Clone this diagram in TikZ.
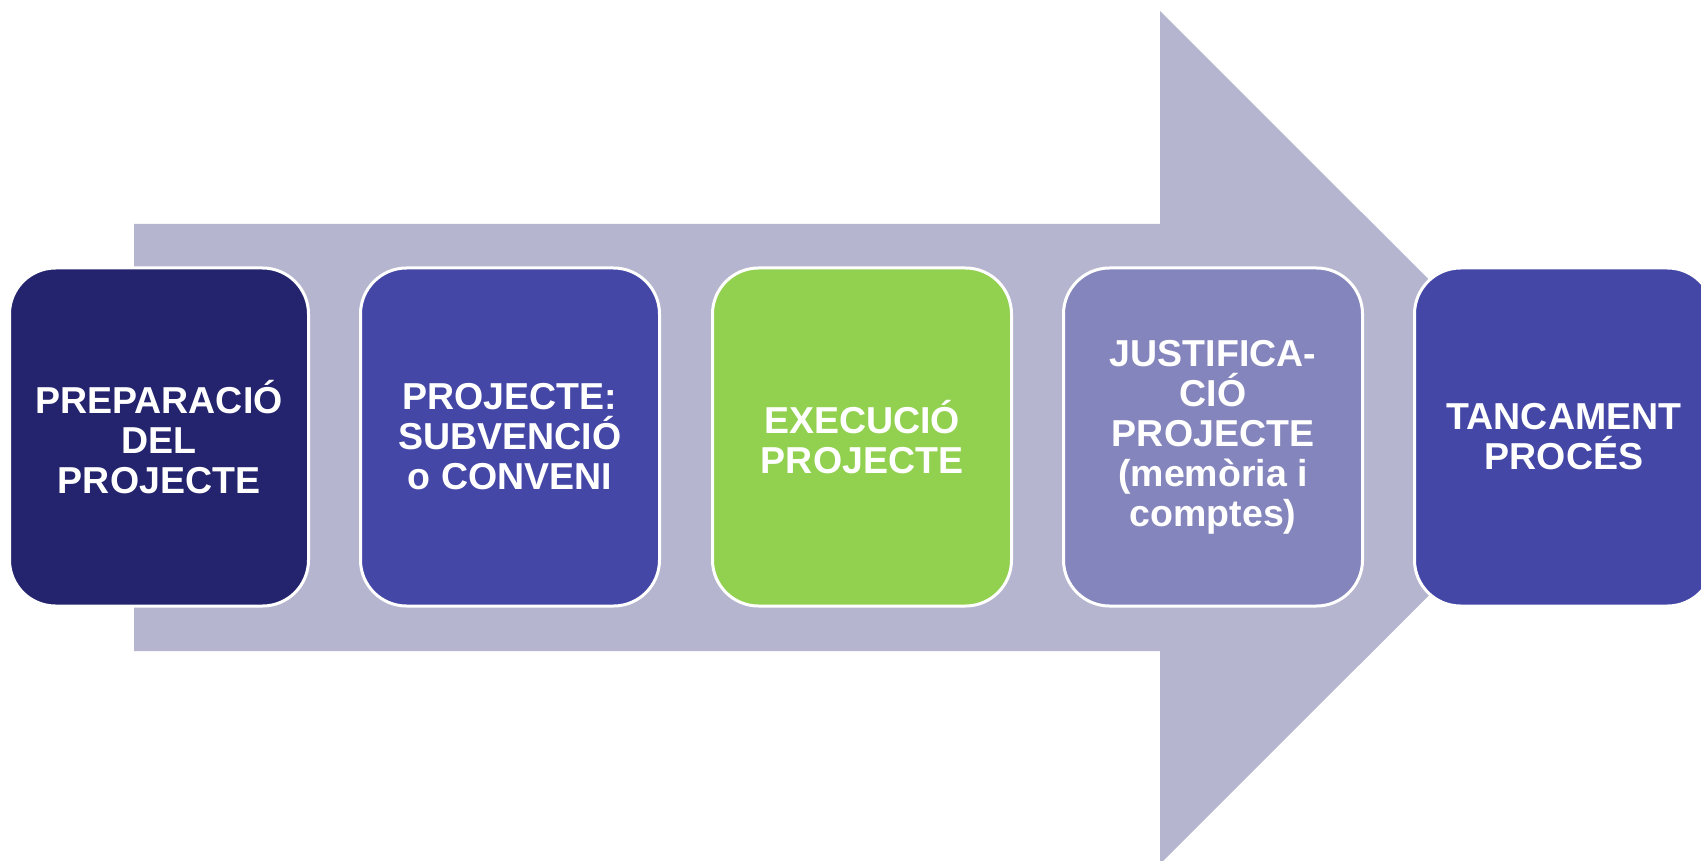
\documentclass[tikz,border=0pt]{standalone}
\usepackage{fontspec}
\setmainfont{Liberation Sans}
\definecolor{arrowgray}{HTML}{B5B5CF}
\definecolor{navy}{HTML}{24246E}
\definecolor{violet}{HTML}{4547A6}
\definecolor{lgreen}{HTML}{92D050}
\definecolor{lavender}{HTML}{8585BD}
\begin{document}
\begin{tikzpicture}[x=1pt,y=-1pt,
  stepbox/.style={draw=white, line width=3pt, rounded corners=46pt,
    minimum width=299pt, minimum height=338pt, inner sep=0pt,
    text=white, align=center,
    font=\bfseries\fontsize{37.5}{40}\selectfont}]
\useasboundingbox (0,0) rectangle (1701,861);
\clip (0,0) rectangle (1701,861);
\fill[arrowgray] (134,224) -- (1160,224) -- (1160,11) -- (1587,437.5)
  -- (1160,864) -- (1160,651) -- (134,651) -- cycle;
\node[stepbox, fill=navy] (b1) at (159,437) {PREPARACIÓ\\DEL\\PROJECTE};
\node[stepbox, fill=violet] (b2) at (510,437) {PROJECTE:\\SUBVENCIÓ\\o CONVENI};
\node[stepbox, fill=lgreen] (b3) at (862,437) {EXECUCIÓ\\PROJECTE};
\node[stepbox, fill=lavender] (b4) at (1213,437) {JUSTIFICA-\\CIÓ\\PROJECTE\\(memòria i\\comptes)};
\node[stepbox, fill=violet] (b5) at (1564,437) {TANCAMENT\\PROCÉS};
\end{tikzpicture}
\end{document}
